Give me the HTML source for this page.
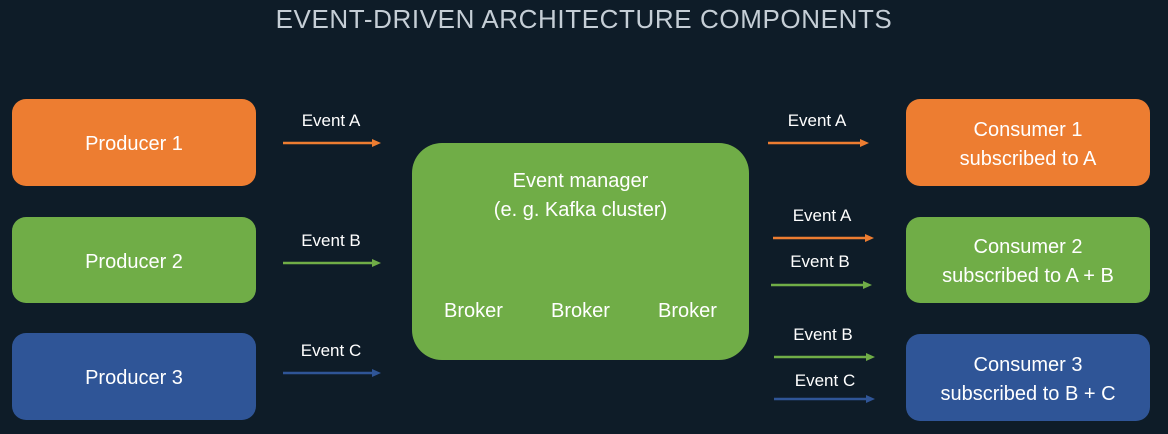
<!DOCTYPE html>
<html><head><style>
body{margin:0;width:1168px;height:434px;background:#0e1c28;position:relative;overflow:hidden;font-family:"Liberation Sans",sans-serif;color:#fff}
.t{position:absolute;left:0;width:1168px;top:4px;text-align:center;font-size:26px;color:#c5ced6;letter-spacing:0.6px;font-weight:300}
.b{position:absolute;border-radius:14px;display:flex;align-items:center;justify-content:center;text-align:center;font-size:20px;line-height:29px;padding-top:4px;box-sizing:border-box}
.o{background:#ed7d31}.g{background:#70ad47}.bl{background:#2f5597}
.l{position:absolute;font-size:17px;width:120px;text-align:center}
</style></head><body>
<div class="t">EVENT-DRIVEN ARCHITECTURE COMPONENTS</div>
<div class="b o" style="left:12px;top:99px;width:244px;height:87px">Producer 1</div>
<div class="b g" style="left:12px;top:217px;width:244px;height:86px">Producer 2</div>
<div class="b bl" style="left:12px;top:333px;width:244px;height:87px">Producer 3</div>
<div class="b g" style="left:412px;top:143px;width:337px;height:217px;border-radius:30px;display:block">
<div style="position:absolute;top:24px;width:100%">Event manager<br>(e. g. Kafka cluster)</div>
<div style="position:absolute;top:154px;left:0;width:100%;display:flex;justify-content:space-around;padding:0 8px;box-sizing:border-box"><span>Broker</span><span>Broker</span><span>Broker</span></div>
</div>
<div class="b o" style="left:906px;top:99px;width:244px;height:87px">Consumer 1<br>subscribed to A</div>
<div class="b g" style="left:906px;top:217px;width:244px;height:86px">Consumer 2<br>subscribed to A + B</div>
<div class="b bl" style="left:906px;top:334px;width:244px;height:87px">Consumer 3<br>subscribed to B + C</div>
<div class="l" style="left:271px;top:111px">Event A</div>
<div class="l" style="left:271px;top:231px">Event B</div>
<div class="l" style="left:271px;top:341px">Event C</div>
<div class="l" style="left:757px;top:111px">Event A</div>
<div class="l" style="left:762px;top:206px">Event A</div>
<div class="l" style="left:760px;top:252px">Event B</div>
<div class="l" style="left:763px;top:325px">Event B</div>
<div class="l" style="left:765px;top:371px">Event C</div>
<svg width="1168" height="434" style="position:absolute;left:0;top:0">
<g stroke-width="2.5">
<line x1="283" y1="143" x2="374" y2="143" stroke="#ed7d31"/><polygon points="372,139 381,143 372,147" fill="#ed7d31"/>
<line x1="283" y1="263" x2="374" y2="263" stroke="#70ad47"/><polygon points="372,259 381,263 372,267" fill="#70ad47"/>
<line x1="283" y1="373" x2="374" y2="373" stroke="#2f5597"/><polygon points="372,369 381,373 372,377" fill="#2f5597"/>
<line x1="768" y1="143" x2="862" y2="143" stroke="#ed7d31"/><polygon points="860,139 869,143 860,147" fill="#ed7d31"/>
<line x1="773" y1="238" x2="867" y2="238" stroke="#ed7d31"/><polygon points="865,234 874,238 865,242" fill="#ed7d31"/>
<line x1="771" y1="285" x2="865" y2="285" stroke="#70ad47"/><polygon points="863,281 872,285 863,289" fill="#70ad47"/>
<line x1="774" y1="357" x2="868" y2="357" stroke="#70ad47"/><polygon points="866,353 875,357 866,361" fill="#70ad47"/>
<line x1="774" y1="399" x2="868" y2="399" stroke="#2f5597"/><polygon points="866,395 875,399 866,403" fill="#2f5597"/>
</g></svg>
</body></html>
